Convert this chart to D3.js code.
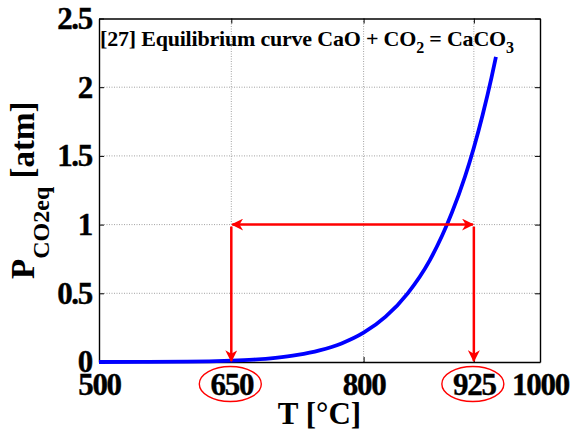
<!DOCTYPE html>
<html>
<head>
<meta charset="utf-8">
<script src="https://cdn.jsdelivr.net/npm/d3@7"></script>
<style>
  body { margin: 0; background: #fff; }
  text { font-family: "Liberation Serif", "Times New Roman", serif; font-weight: bold; }
</style>
</head>
<body>
<div id="viz"></div>
<script>
// equilibrium curve
var tempC = [500, 550, 600, 625, 650, 675, 700, 725, 750, 775, 800, 825, 850, 875, 900, 915, 925, 935, 945, 950];
var pAtm  = [0.0001, 0.0007, 0.0027, 0.0052, 0.0096, 0.017, 0.030, 0.051, 0.084, 0.135, 0.213, 0.330, 0.50, 0.74, 1.085, 1.35, 1.56, 1.80, 2.07, 2.22];

var xTicks = [500, 650, 800, 925, 1000];
var yTicks = [0, 0.5, 1, 1.5, 2, 2.5];
var yTickLabels = ["0", "0.5", "1", "1.5", "2", "2.5"];
var markTemps = [650, 925];   // circled temperatures
var markP = 1;

var width = 574, height = 432;
var plotL = 99, plotR = 540, plotT = 18.5, plotB = 362;

var x = d3.scaleLinear().domain([500, 1000]).range([plotL, plotR]);
var y = d3.scaleLinear().domain([0, 2.5]).range([plotB, plotT]);

var svg = d3.select("#viz")
    .append("svg")
    .attr("width", width)
    .attr("height", height);

var defs = svg.append("defs");
defs.append("marker")
    .attr("id", "head")
    .attr("viewBox", "0 0 10 10")
    .attr("refX", 9)
    .attr("refY", 5)
    .attr("markerUnits", "userSpaceOnUse")
    .attr("markerWidth", 14)
    .attr("markerHeight", 12)
    .attr("orient", "auto-start-reverse")
  .append("path")
    .attr("d", "M0,0 L10,5 L0,10 L3,5 Z")
    .style("fill", "#ff0000");

// grid
svg.append("g").selectAll("line")
    .data(xTicks.slice(1, -1))
    .enter().append("line")
    .attr("x1", function(d){return x(d);})
    .attr("x2", function(d){return x(d);})
    .attr("y1", plotT).attr("y2", plotB)
    .style("stroke", "#8a8a8a")
    .style("stroke-width", 0.8)
    .style("stroke-dasharray", "1,1.5");

svg.append("g").selectAll("line")
    .data(yTicks.slice(1, -1))
    .enter().append("line")
    .attr("y1", function(d){return y(d);})
    .attr("y2", function(d){return y(d);})
    .attr("x1", plotL).attr("x2", plotR)
    .style("stroke", "#8a8a8a")
    .style("stroke-width", 0.8)
    .style("stroke-dasharray", "1,1.5");

// axes
var xAxis = d3.axisBottom(x).tickValues(xTicks).tickFormat(d3.format("d"))
    .tickSize(-5).tickSizeOuter(0).tickPadding(11);
var yAxis = d3.axisLeft(y).tickValues(yTicks)
    .tickFormat(function(d, i){return yTickLabels[i];})
    .tickSize(-5).tickSizeOuter(0).tickPadding(7);

svg.append("g").attr("transform", "translate(0," + plotB + ")").call(xAxis);
svg.append("g").attr("transform", "translate(" + plotL + ",0)").call(yAxis);
svg.append("g").attr("transform", "translate(0," + plotT + ")")
    .call(d3.axisTop(x).tickValues(xTicks).tickSize(-5).tickSizeOuter(0).tickFormat(""));
svg.append("g").attr("transform", "translate(" + plotR + ",0)")
    .call(d3.axisRight(y).tickValues(yTicks).tickSize(-5).tickSizeOuter(0).tickFormat(""));

svg.selectAll(".domain").style("stroke", "#000").style("stroke-width", 1.4);
svg.selectAll(".tick line").style("stroke", "#000");
svg.selectAll(".tick text")
    .style("font-family", "'Liberation Serif', serif")
    .style("font-weight", "bold")
    .style("font-size", "31px")
    .style("letter-spacing", "-1.3px")
    .style("stroke", "#000")
    .style("stroke-width", 0.4)
    .style("fill", "#000");

// curve
var line = d3.line()
    .x(function(d){return x(d[0]);})
    .y(function(d){return y(d[1]);})
    .curve(d3.curveMonotoneX);

svg.append("path")
    .datum(d3.zip(tempC, pAtm))
    .attr("d", line)
    .style("fill", "none")
    .style("stroke", "#0000ff")
    .style("stroke-width", 3.8);

// red arrows
svg.append("line")
    .attr("x1", x(markTemps[0]) + 1).attr("x2", x(markTemps[1]) - 1)
    .attr("y1", y(markP)).attr("y2", y(markP))
    .attr("marker-start", "url(#head)")
    .attr("marker-end", "url(#head)")
    .style("stroke", "#ff0000")
    .style("stroke-width", 2.5);

svg.append("g").selectAll("line")
    .data(markTemps)
    .enter().append("line")
    .attr("x1", function(d){return x(d);})
    .attr("x2", function(d){return x(d);})
    .attr("y1", y(markP) + 2)
    .attr("y2", y(0) - 1)
    .attr("marker-end", "url(#head)")
    .style("stroke", "#ff0000")
    .style("stroke-width", 2.5);

// circles round the marked tick labels
svg.append("g").selectAll("ellipse")
    .data(markTemps)
    .enter().append("ellipse")
    .attr("cx", function(d){return x(d) - 1;})
    .attr("cy", plotB + 22)
    .attr("rx", 31)
    .attr("ry", 17.5)
    .style("fill", "none")
    .style("stroke", "#ff0000")
    .style("stroke-width", 1.4);

// title inside plot
var title = svg.append("text")
    .attr("x", 100).attr("y", 46)
    .style("font-size", "22px")
    .style("letter-spacing", "-0.2px");
title.append("tspan").text("[27] Equilibrium curve CaO + CO");
title.append("tspan").attr("dy", 7).style("font-size", "16px").text("2");
title.append("tspan").attr("dy", -7).text(" = CaCO");
title.append("tspan").attr("dy", 7).style("font-size", "16px").text("3");

// axis titles
svg.append("text")
    .attr("x", (plotL + plotR) / 2)
    .attr("y", 424)
    .attr("text-anchor", "middle")
    .style("font-size", "31px")
    .text("T [°C]");

var ylab = svg.append("text")
    .attr("transform", "translate(34," + ((plotT + plotB) / 2) + ") rotate(-90)")
    .attr("text-anchor", "middle")
    .style("font-size", "33px");
ylab.append("tspan").text("P");
ylab.append("tspan").attr("dy", 15).style("font-size", "24px").text("CO2eq");
ylab.append("tspan").attr("dy", -15).text(" [atm]");
</script>
</body>
</html>
